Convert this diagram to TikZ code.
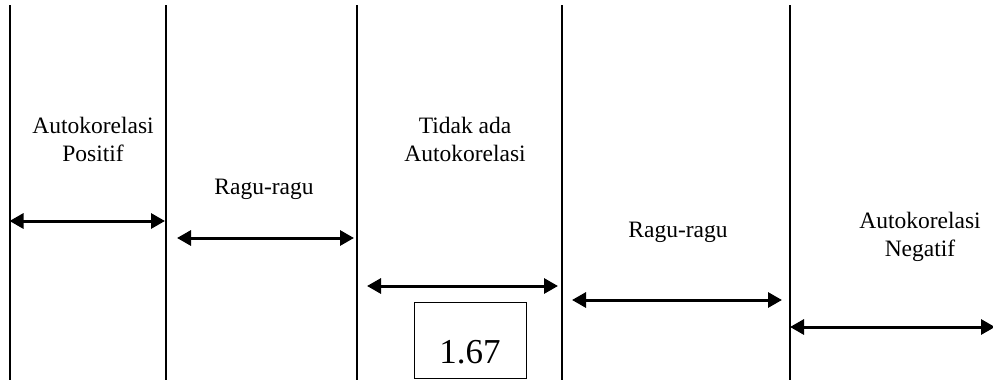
\documentclass[tikz,border=0pt]{standalone}
\usepackage{fontspec}
\setmainfont{Liberation Serif}
\usetikzlibrary{arrows.meta}
\begin{document}
\begin{tikzpicture}[x=1pt,y=-1pt,
  divider/.style={line width=2pt},
  spanarrow/.style={line width=3pt,{Triangle[length=14pt,width=15pt]}-{Triangle[length=14pt,width=15pt]}},
  lbl/.style={font=\fontsize{23.5}{28}\selectfont,align=center,anchor=base,inner sep=0pt},
  valbox/.style={draw,line width=1pt,inner sep=0pt,text width=112pt,align=center,
    text height=61pt,text depth=15pt,font=\fontsize{35}{40}\selectfont,anchor=base}]
\useasboundingbox (0,0) rectangle (993,380);
% dividers
\foreach \n/\x in {a/9.5,b/165.5,c/357,d/562,e/790}{
  \coordinate (\n t) at (\x,5);
  \coordinate (\n b) at (\x,380);
  \draw[divider] (\n t) -- (\n b);
}
% arrow end points
\coordinate (r1l) at (9.5,221);  \coordinate (r1r) at (165,221);
\coordinate (r2l) at (177,238);  \coordinate (r2r) at (354,238);
\coordinate (r3l) at (367,286);  \coordinate (r3r) at (558,286);
\coordinate (r4l) at (572,300);  \coordinate (r4r) at (782,300);
\coordinate (r5l) at (790,327);  \coordinate (r5r) at (995,327);
\draw[spanarrow] (r1l) -- (r1r);
\draw[spanarrow] (r2l) -- (r2r);
\draw[spanarrow] (r3l) -- (r3r);
\draw[spanarrow] (r4l) -- (r4r);
\draw[spanarrow] (r5l) -- (r5r);
% labels (base anchor = baseline of last line)
\node[lbl] (pos) at (93,161) {Autokorelasi\\Positif};
\node[lbl] (rg1) at (264,194) {Ragu-ragu};
\node[lbl] (none) at (465,161) {Tidak ada\\Autokorelasi};
\node[lbl] (rg2) at (678,237) {Ragu-ragu};
\node[lbl] (neg) at (920,256) {Autokorelasi\\Negatif};
\node[valbox] (val) at (470,363) {1.67};
\end{tikzpicture}
\end{document}
